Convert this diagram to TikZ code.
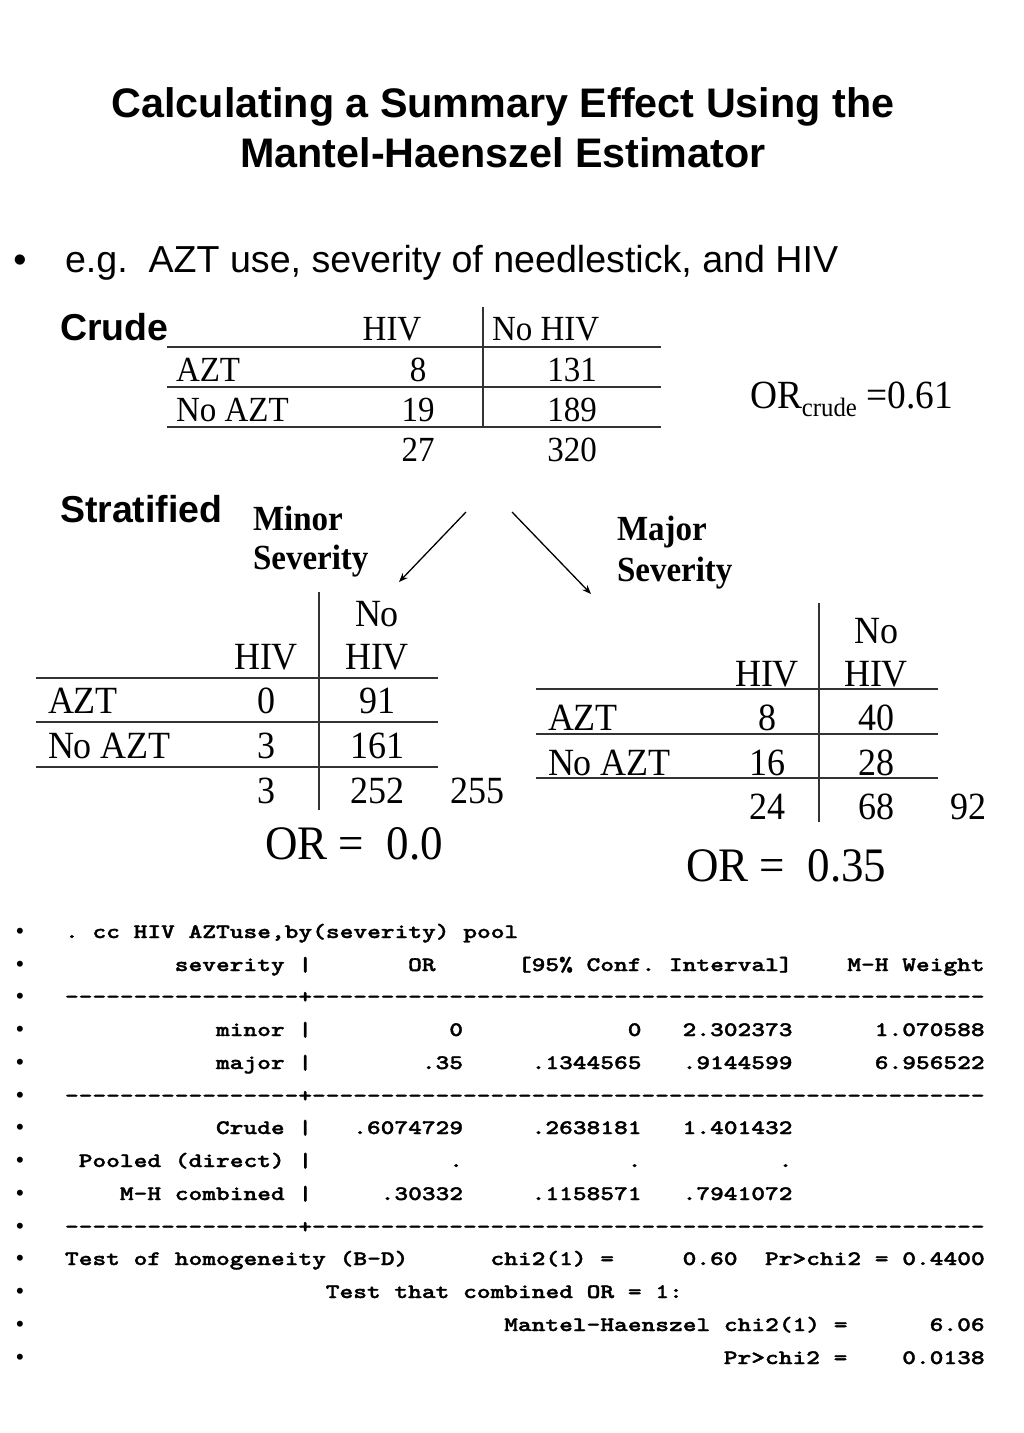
\documentclass[tikz,border=0pt]{standalone}
\usepackage{fontspec}
\setmainfont[FakeStretch=0.935]{Liberation Serif}
\newfontfamily\arialfont{Liberation Sans}
\newfontfamily\courfont[FakeStretch=1.27,FakeBold=1.6]{lmmonolt10-bold.otf}
\usetikzlibrary{arrows.meta}
\frenchspacing
\tikzset{
 every node/.style={inner sep=0pt, outer sep=0pt},
 ttl/.style={font=\arialfont\bfseries\fontsize{41.3}{50}\selectfont, anchor=base},
 head/.style={font=\arialfont\bfseries\fontsize{37.5}{45}\selectfont, anchor=base west},
 bul/.style={font=\arialfont\fontsize{37.6}{45}\selectfont, anchor=base west},
 bulmark/.style={font=\arialfont\fontsize{37.6}{45}\selectfont, anchor=base},
 ct/.style={font=\fontsize{35.3}{40}\selectfont, anchor=base},
 ctl/.style={font=\fontsize{35.3}{40}\selectfont, anchor=base west},
 st/.style={font=\fontsize{38.5}{44}\selectfont, anchor=base},
 stl/.style={font=\fontsize{38.5}{44}\selectfont, anchor=base west},
 sev/.style={font=\bfseries\fontsize{35.3}{40}\selectfont, anchor=base west},
 orr/.style={font=\fontsize{48.1}{54}\selectfont, anchor=base west},
 mono/.style={font=\courfont\fontsize{20.6}{26}\selectfont, anchor=base west},
 sbul/.style={font=\arialfont\fontsize{22}{26}\selectfont, anchor=base},
 rl/.style={line width=1.5pt, draw=black!80},
 arr/.style={line width=1.3pt, -{Stealth[length=9pt,width=7pt]}},
}
\newcommand\sseg[4]{\node[mono] (#1) at ({65+#3*13.725},#2) {#4};}
\newcommand\dashrow[2]{%
 \foreach \i in {0,...,66}{%
  \ifnum\i=17\relax
   \node[mono] (#1\i) at ({65+\i*13.725},#2) {+};%
  \else
   \node[mono] (#1\i) at ({65+\i*13.725},#2) {-};%
  \fi}}
\begin{document}
\begin{tikzpicture}[x=1pt,y=-1pt]
\fill[white] (0,0) rectangle (1024,1433);
\useasboundingbox (0,0) rectangle (1024,1433);
% title
\node[ttl] (t1) at (503,117) {Calculating a Summary Effect Using the};
\node[ttl] (t2) at (503,167) {Mantel-Haenszel Estimator};
% bullet
\node[bulmark] (b0) at (20,272) {•};
\node[bul] (b1) at (65,272) {e.g.\ \ AZT use, severity of needlestick, and HIV};
% crude
\node[head] (crude) at (60,340) {Crude};
\draw[rl] (167,347) -- (661,347);
\draw[rl] (167,387) -- (661,387);
\draw[rl] (167,427) -- (661,427);
\draw[rl] (483,307) -- (483,427);
\node[ct] (c01) at (392,340) {HIV};
\node[ctl] (c02) at (492,340) {No HIV};
\node[ctl] (c10) at (176,381) {AZT};
\node[ct] (c11) at (418,381) {8};
\node[ct] (c12) at (572,381) {131};
\node[ctl] (c20) at (176,421) {No AZT};
\node[ct] (c21) at (418,421) {19};
\node[ct] (c22) at (572,421) {189};
\node[ct] (c31) at (418,461) {27};
\node[ct] (c32) at (572,461) {320};
\node[font=\fontsize{40}{44}\selectfont, anchor=base west] (orc) at (750,408) {OR\raisebox{-8pt}{\fontsize{26.5}{28}\selectfont crude} =0.61};
% stratified
\node[head] (strat) at (60,522) {Stratified};
\node[sev] (mi1) at (253,530) {Minor};
\node[sev] (mi2) at (253,569) {Severity};
\node[sev] (ma1) at (617,540) {Major};
\node[sev] (ma2) at (617,581) {Severity};
\coordinate (a1s) at (466,512);
\coordinate (a1e) at (399,582);
\coordinate (a2s) at (512,512);
\coordinate (a2e) at (591,594);
\draw[arr] (a1s) -- (a1e);
\draw[arr] (a2s) -- (a2e);
% minor table
\draw[rl] (36,678) -- (438,678);
\draw[rl] (36,722) -- (438,722);
\draw[rl] (36,767) -- (438,767);
\draw[rl] (319,592) -- (319,810);
\node[st] (m00) at (377,626) {No};
\node[st] (m01) at (266,669) {HIV};
\node[st] (m02) at (377,669) {HIV};
\node[stl] (m10) at (48,713) {AZT};
\node[st] (m11) at (266,713) {0};
\node[st] (m12) at (377,713) {91};
\node[stl] (m20) at (48,758) {No AZT};
\node[st] (m21) at (266,758) {3};
\node[st] (m22) at (377,758) {161};
\node[st] (m31) at (266,803) {3};
\node[st] (m32) at (377,803) {252};
\node[st] (m33) at (477,803) {255};
\node[orr] (mor) at (265,859) {OR =~~0.0};
% major table
\draw[rl] (536,689) -- (938,689);
\draw[rl] (536,734) -- (938,734);
\draw[rl] (536,778) -- (938,778);
\draw[rl] (819,603) -- (819,822);
\node[st] (j00) at (876,643) {No};
\node[st] (j01) at (767,686) {HIV};
\node[st] (j02) at (876,686) {HIV};
\node[stl] (j10) at (548,730) {AZT};
\node[st] (j11) at (767,730) {8};
\node[st] (j12) at (876,730) {40};
\node[stl] (j20) at (548,775) {No AZT};
\node[st] (j21) at (767,775) {16};
\node[st] (j22) at (876,775) {28};
\node[st] (j31) at (767,819) {24};
\node[st] (j32) at (876,819) {68};
\node[st] (j33) at (968,819) {92};
\node[orr] (jor) at (686,881) {OR =~~0.35};
% stata output
\foreach \yy [count=\k] in {938,971,1003,1036,1069,1102,1134,1167,1200,1233,1265,1298,1331,1364}
  \node[sbul] (sb\k) at (20,\yy) {•};
\sseg{l1}{938}{0}{. cc HIV AZTuse,by(severity) pool}
\sseg{l2a}{971}{8}{severity |}
\sseg{l2b}{971}{25}{OR}
\sseg{l2c}{971}{33}{[95\% Conf. Interval]}
\sseg{l2d}{971}{57}{M-H Weight}
\dashrow{da}{1003}
\sseg{l4a}{1036}{11}{minor |}
\sseg{l4b}{1036}{28}{0}
\sseg{l4c}{1036}{41}{0}
\sseg{l4d}{1036}{45}{2.302373}
\sseg{l4e}{1036}{59}{1.070588}
\sseg{l5a}{1069}{11}{major |}
\sseg{l5b}{1069}{26}{.35}
\sseg{l5c}{1069}{34}{.1344565}
\sseg{l5d}{1069}{45}{.9144599}
\sseg{l5e}{1069}{59}{6.956522}
\dashrow{db}{1102}
\sseg{l7a}{1134}{11}{Crude |}
\sseg{l7b}{1134}{21}{.6074729}
\sseg{l7c}{1134}{34}{.2638181}
\sseg{l7d}{1134}{45}{1.401432}
\sseg{l8a}{1167}{1}{Pooled (direct) |}
\sseg{l8b}{1167}{28}{.}
\sseg{l8c}{1167}{41}{.}
\sseg{l8d}{1167}{52}{.}
\sseg{l9a}{1200}{4}{M-H combined |}
\sseg{l9b}{1200}{23}{.30332}
\sseg{l9c}{1200}{34}{.1158571}
\sseg{l9d}{1200}{45}{.7941072}
\dashrow{dc}{1233}
\sseg{l11a}{1265}{0}{Test of homogeneity (B-D)}
\sseg{l11b}{1265}{31}{chi2(1) =}
\sseg{l11c}{1265}{45}{0.60}
\sseg{l11d}{1265}{51}{Pr>chi2 = 0.4400}
\sseg{l12a}{1298}{19}{Test that combined OR = 1:}
\sseg{l13a}{1331}{32}{Mantel-Haenszel chi2(1) =}
\sseg{l13b}{1331}{63}{6.06}
\sseg{l14a}{1364}{48}{Pr>chi2 =}
\sseg{l14b}{1364}{61}{0.0138}
\end{tikzpicture}
\end{document}
